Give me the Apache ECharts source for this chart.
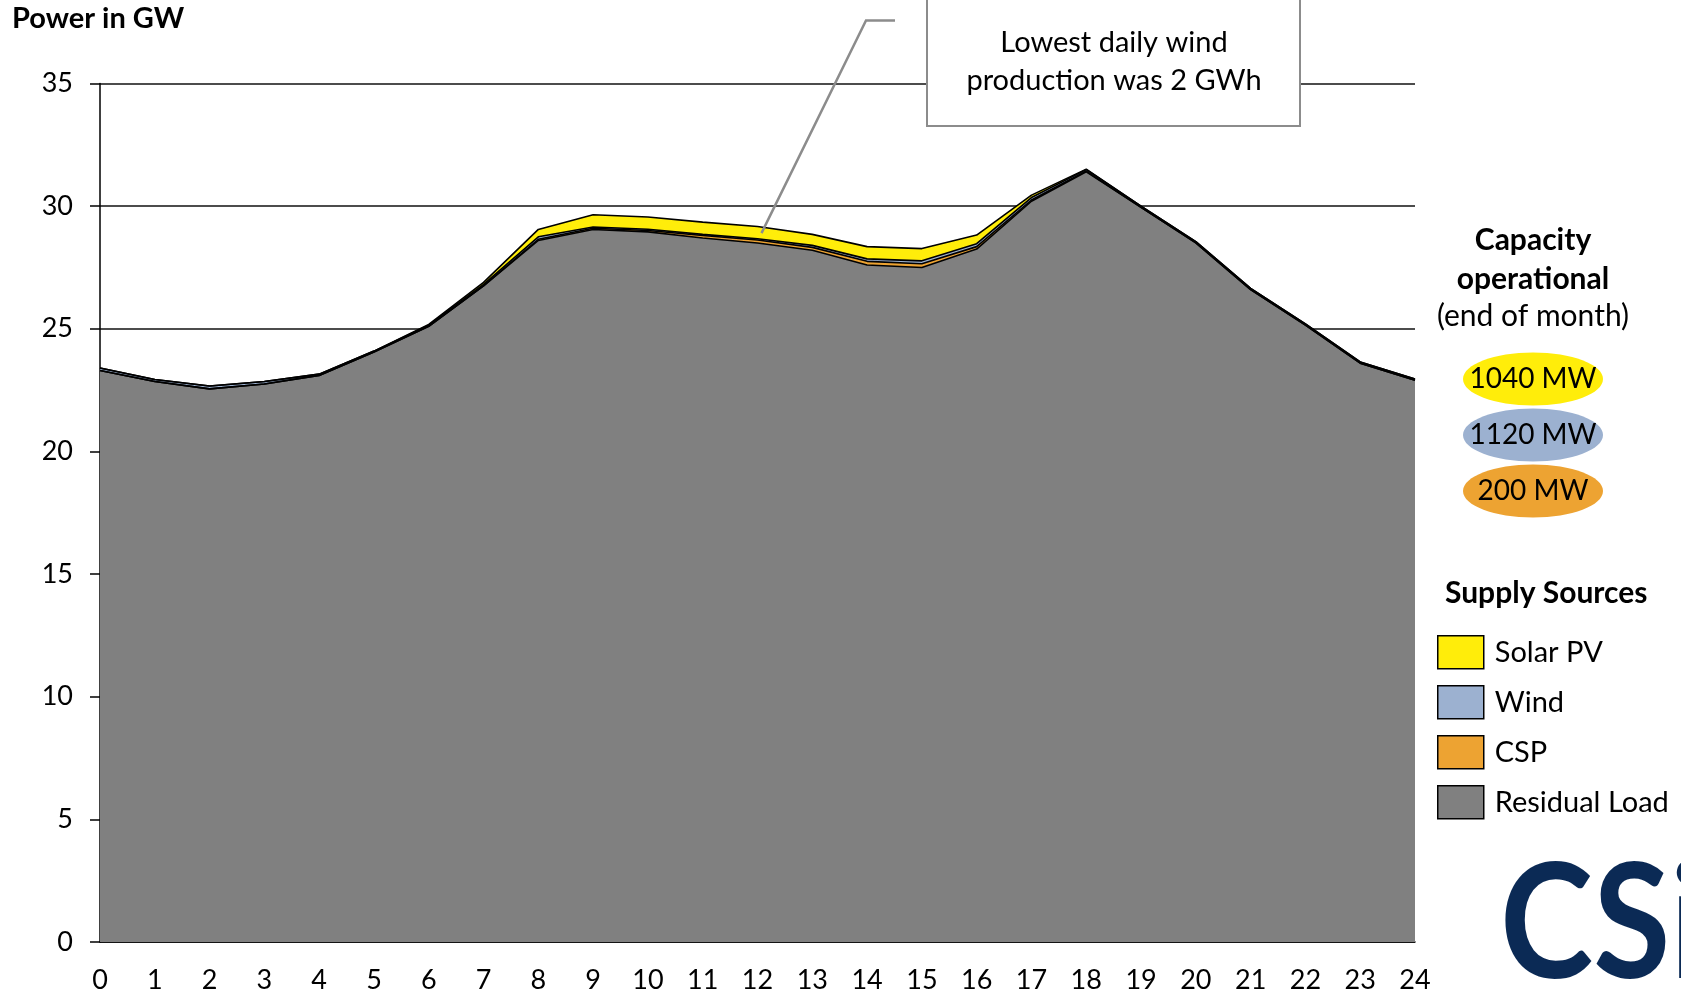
<!DOCTYPE html>
<html>
<head>
<meta charset="utf-8">
<script src="https://cdn.jsdelivr.net/npm/echarts@6/dist/echarts.min.js"></script>
<style>
  html, body { margin: 0; padding: 0; background: #fff; }
  #chart { width: 1681px; height: 994px; }
</style>
</head>
<body>
<div id="chart"></div>
<script>
// hours of the day
const hours = ['0', '1', '2', '3', '4', '5', '6', '7', '8', '9', '10', '11', '12',
  '13', '14', '15', '16', '17', '18', '19', '20', '21', '22', '23', '24']

// GW, stacked from bottom: residual load, CSP, wind, solar PV
const residualLoad = [23.3, 22.85, 22.55, 22.75, 23.1, 24.05, 25.1, 26.75, 28.6, 29.05, 28.95, 28.7, 28.5,
  28.2, 27.6, 27.5, 28.25, 30.2, 31.4, 29.95, 28.5, 26.6, 25.15, 23.6, 22.9]
const csp = [0, 0, 0, 0, 0, 0, 0, 0, 0.05, 0.05, 0.06, 0.1, 0.12,
  0.12, 0.15, 0.15, 0.1, 0.05, 0.03, 0, 0, 0, 0, 0, 0]
const wind = [0.1, 0.08, 0.12, 0.1, 0.05, 0.04, 0.05, 0.06, 0.1, 0.05, 0.05, 0.05, 0.05,
  0.08, 0.1, 0.12, 0.12, 0.1, 0.06, 0.05, 0.05, 0.05, 0.05, 0.05, 0.05]
const solarPV = [0, 0, 0, 0, 0, 0, 0.03, 0.08, 0.3, 0.5, 0.5, 0.5, 0.5,
  0.45, 0.5, 0.5, 0.35, 0.1, 0.02, 0, 0, 0, 0, 0, 0]

const yTicks = { min: 0, max: 35, interval: 5 }

// capacity operational labels (end of month)
const capacityLabels = ['1040 MW', '1120 MW', '200 MW']

const colors = {
  solar: '#FFED0A',
  wind: '#9CB1D0',
  csp: '#EDA332',
  residual: '#808080'
}
const capacityColors = [colors.solar, colors.wind, colors.csp]

const font = 'Lato, "Open Sans", sans-serif'

function areaSeries (name, data, color) {
  return {
    name: name,
    type: 'line',
    stack: 'supply',
    symbol: 'none',
    data: data,
    color: color,
    lineStyle: { color: '#000', width: 1.6 },
    areaStyle: { color: color, opacity: 1 },
    emphasis: { disabled: true }
  }
}

function label (x, y, text, size, bold, align) {
  return {
    type: 'text',
    z: 11,
    x: x,
    y: y,
    style: {
      text: text,
      font: (bold ? 'bold ' : '') + size + 'px ' + font,
      fill: '#000',
      align: align || 'center',
      verticalAlign: 'middle'
    }
  }
}

const chart = echarts.init(document.getElementById('chart'))

const capacityGraphics = capacityLabels.map((text, i) => {
  return {
    type: 'ellipse',
    shape: { cx: 1533, cy: 379 + i * 56, rx: 70, ry: 26.5 },
    style: { fill: capacityColors[i] },
    textContent: {
      style: { text: text, fill: '#000', font: '28px ' + font }
    },
    textConfig: { position: 'inside' }
  }
})

chart.setOption({
  animation: false,
  textStyle: { fontFamily: font },
  title: {
    text: 'Power in GW',
    left: 12,
    top: 4,
    padding: 0,
    textStyle: { fontSize: 29, fontWeight: 'bold', color: '#000', fontFamily: font }
  },
  grid: {
    left: 100,
    right: 266,
    top: 83.5,
    bottom: 50.5
  },
  legend: {
    data: ['Solar PV', 'Wind', 'CSP', 'Residual Load'],
    orient: 'vertical',
    left: 1437,
    top: 635,
    icon: 'rect',
    itemWidth: 46,
    itemHeight: 33,
    itemGap: 15.5,
    padding: 0,
    selectedMode: false,
    itemStyle: { borderColor: '#000', borderWidth: 1.5 },
    lineStyle: { width: 0 },
    textStyle: { fontSize: 29, color: '#000', fontFamily: font, padding: [0, 0, 0, 6] }
  },
  xAxis: {
    type: 'category',
    data: hours,
    boundaryGap: false,
    axisLine: { lineStyle: { color: '#000', width: 1.5 } },
    axisTick: { show: false },
    axisLabel: { interval: 0, fontSize: 27, color: '#000', margin: 25, fontFamily: font }
  },
  yAxis: {
    type: 'value',
    min: yTicks.min,
    max: yTicks.max,
    interval: yTicks.interval,
    axisLine: { show: true, lineStyle: { color: '#000', width: 1.5 } },
    axisTick: { show: true, length: 10, lineStyle: { color: '#000', width: 1.5 } },
    axisLabel: { fontSize: 27, color: '#000', margin: 27, fontFamily: font },
    splitLine: { lineStyle: { color: '#111', width: 1.5 } }
  },
  series: [
    areaSeries('Residual Load', residualLoad, colors.residual),
    areaSeries('CSP', csp, colors.csp),
    areaSeries('Wind', wind, colors.wind),
    areaSeries('Solar PV', solarPV, colors.solar)
  ],
  graphic: [
    label(1533, 240, 'Capacity', 30, true),
    label(1533, 279, 'operational', 30, true),
    label(1533, 316, '(end of month)', 30, false),
    ...capacityGraphics,
    label(1445, 593, 'Supply Sources', 30, true, 'left'),
    {
      type: 'rect',
      z: 10,
      shape: { x: 927, y: -3, width: 373, height: 129 },
      style: { fill: '#fff', stroke: '#8c8c8c', lineWidth: 2 }
    },
    label(1114, 43, 'Lowest daily wind', 29, false),
    label(1114, 81, 'production was 2 GWh', 29, false),
    {
      type: 'text',
      x: 1500,
      y: 846,
      scaleX: 0.88,
      style: { text: 'CSi', font: 'bold 160px ' + font, fill: '#0B2A55', align: 'left', verticalAlign: 'top' }
    }
  ]
})

// leader line from the note down into the solar band
const tip = chart.convertToPixel({ xAxisIndex: 0, yAxisIndex: 0 }, [12, 28.9])
chart.setOption({
  graphic: [{
    id: 'leader',
    type: 'polyline',
    z: 12,
    shape: { points: [[895, 20.5], [866, 20.5], [tip[0] + 4, tip[1]]] },
    style: { stroke: '#8c8c8c', lineWidth: 2.5, fill: null }
  }]
})
</script>
</body>
</html>
